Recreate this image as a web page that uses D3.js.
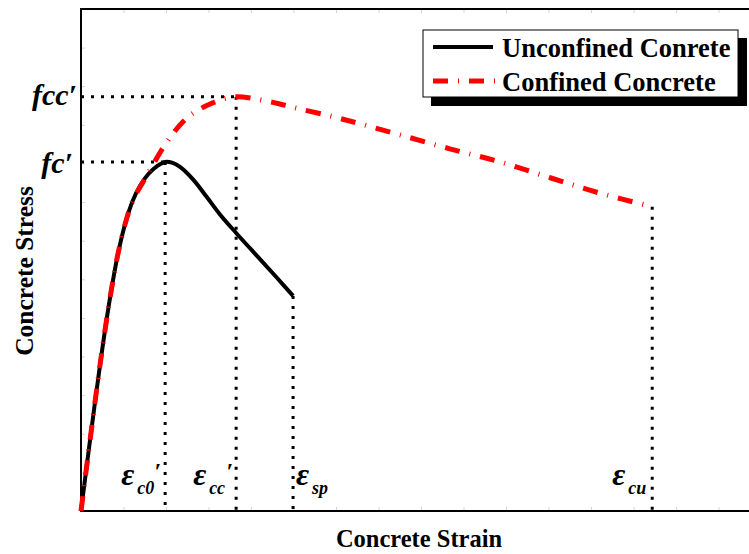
<!DOCTYPE html>
<html lang="en">
  <head>
    <meta charset="UTF-8" />
    <title>Concrete Stress vs Strain – Confined / Unconfined</title>
    <script src="https://d3js.org/d3.v7.min.js"></script>
    <style>
      body {
        margin: 0;
        background: #fff;
      }
      svg text {
        font-family: 'Liberation Serif', 'Times New Roman', serif;
        font-weight: bold;
        fill: #000;
      }
      .tick line {
        stroke: #d4d4d4;
      }
      .dotted {
        stroke: #000;
        stroke-width: 3;
        stroke-dasharray: 3, 7;
        fill: none;
      }
    </style>
  </head>
  <body>
    <div id="chart"></div>
    <script>
      // strain in 1e-3 (ticks every 1), stress in plot units (ticks every 1)
      const unconfinedStrain = [0, 0.21, 0.45, 0.68, 0.87, 1.04, 1.22, 1.39, 1.58, 1.79, 1.98,
        2.14, 2.33, 2.64, 2.96, 3.27, 3.65, 3.98, 4.28, 4.61, 4.99];
      const unconfinedStress = [0, 1.81, 3.8, 5.5, 6.66, 7.44, 8.04, 8.42, 8.72, 8.93, 9.04,
        9.02, 8.91, 8.58, 8.13, 7.68, 7.2, 6.8, 6.44, 6.04, 5.57];

      const confinedStrain = [0, 0.21, 0.45, 0.68, 0.87, 1.04, 1.22, 1.46, 1.69, 1.91, 2.16,
        2.4, 2.61, 2.96, 3.27, 3.65, 4.21, 4.68, 5.15, 5.86, 6.56, 7.51, 8.68, 9.86,
        11.04, 12.21, 13.44];
      const confinedStress = [0, 1.81, 3.8, 5.5, 6.66, 7.44, 8.04, 8.52, 8.96, 9.37, 9.77,
        10.08, 10.28, 10.5, 10.64, 10.73, 10.65, 10.54, 10.41, 10.23, 10.03, 9.74, 9.38,
        9.04, 8.63, 8.23, 7.88];

      // key points marked with dotted guides
      const fc = 9.04, fcc = 10.73;
      const eps = { c0: 1.98, cc: 3.65, sp: 4.99, cu: 13.44 };
      const spEndStress = 5.57, cuEndStress = 7.88;

      const legendLabels = ['Unconfined Conrete', 'Confined Concrete'];

      const W = 749, H = 554;
      const x = d3.scaleLinear().domain([0, 16]).range([81, 761]);
      const y = d3.scaleLinear().domain([0, 13]).range([511, 9]);

      const svg = d3.select('#chart').append('svg')
        .attr('width', W).attr('height', H);

      // faint inward ticks
      svg.append('g').attr('transform', `translate(0,${y(0)})`)
        .call(d3.axisBottom(x).ticks(16).tickSize(-4).tickFormat(''))
        .call(g => g.select('.domain').remove());
      svg.append('g').attr('transform', `translate(0,${y(13)})`)
        .call(d3.axisTop(x).ticks(16).tickSize(-4).tickFormat(''))
        .call(g => g.select('.domain').remove());
      svg.append('g').attr('transform', `translate(${x(0)},0)`)
        .call(d3.axisLeft(y).ticks(13).tickSize(-4).tickFormat(''))
        .call(g => g.select('.domain').remove());

      // axes box
      svg.append('rect')
        .attr('x', x(0)).attr('y', y(13))
        .attr('width', x(16) - x(0)).attr('height', y(0) - y(13))
        .attr('fill', 'none').attr('stroke', '#000').attr('stroke-width', 2);

      // dotted guide lines
      const guides = [
        [[0, fcc], [eps.cc, fcc]],
        [[eps.cc, fcc], [eps.cc, 0]],
        [[0, fc], [eps.c0, fc]],
        [[eps.c0, fc], [eps.c0, 0]],
        [[eps.sp, spEndStress], [eps.sp, 0]],
        [[eps.cu, cuEndStress], [eps.cu, 0]],
      ];
      svg.selectAll('line.dotted').data(guides).join('line')
        .attr('class', 'dotted')
        .attr('x1', d => x(d[0][0])).attr('y1', d => y(d[0][1]))
        .attr('x2', d => x(d[1][0])).attr('y2', d => y(d[1][1]));

      const line = d3.line()
        .x(d => x(d[0])).y(d => y(d[1]))
        .curve(d3.curveCatmullRom.alpha(0.5));

      svg.append('path')
        .datum(d3.zip(unconfinedStrain, unconfinedStress))
        .attr('d', line)
        .attr('fill', 'none').attr('stroke', '#000').attr('stroke-width', 4);

      svg.append('path')
        .datum(d3.zip(confinedStrain, confinedStress))
        .attr('d', line)
        .attr('fill', 'none').attr('stroke', '#ff0000').attr('stroke-width', 5)
        .attr('stroke-dasharray', '15,10,1,10');

      // stress labels
      svg.append('text').attr('x', 77).attr('y', y(fcc) + 8)
        .attr('text-anchor', 'end').style('font-style', 'italic')
        .style('font-size', '30px').text('fcc′');
      svg.append('text').attr('x', 73).attr('y', y(fc) + 11)
        .attr('text-anchor', 'end').style('font-style', 'italic')
        .style('font-size', '30px').text('fc′');

      // strain labels: epsilon + subscript (+ prime)
      const epsLabels = [
        { key: 'c0', sub: 'c0', prime: true, dx: -44 },
        { key: 'cc', sub: 'cc', prime: true, dx: -43 },
        { key: 'sp', sub: 'sp', prime: false, dx: 3 },
        { key: 'cu', sub: 'cu', prime: false, dx: -40 },
      ];
      const el = svg.selectAll('g.eps').data(epsLabels).join('g')
        .attr('class', 'eps')
        .attr('transform', d => `translate(${x(eps[d.key]) + d.dx},485)`)
        .style('font-style', 'italic');
      el.append('text').style('font-size', '32px').text('ε');
      el.append('text').attr('x', 16).attr('y', 9).style('font-size', '18px')
        .text(d => d.sub);
      el.filter(d => d.prime).append('text').attr('x', 33).attr('y', -6)
        .style('font-size', '24px').text('′');

      // axis titles
      svg.append('text').attr('x', 419).attr('y', 547)
        .attr('text-anchor', 'middle').style('font-size', '24.5px')
        .text('Concrete Strain');
      svg.append('text')
        .attr('transform', 'translate(33,271) rotate(-90)')
        .attr('text-anchor', 'middle').style('font-size', '25.5px')
        .text('Concrete Stress');

      // legend
      const lg = svg.append('g');
      lg.append('rect').attr('x', 431).attr('y', 38)
        .attr('width', 316).attr('height', 68).attr('fill', '#000');
      lg.append('rect').attr('x', 423).attr('y', 30)
        .attr('width', 315).attr('height', 67)
        .attr('fill', '#fff').attr('stroke', '#000').attr('stroke-width', 1);
      lg.append('line').attr('x1', 433).attr('x2', 493)
        .attr('y1', 47).attr('y2', 47)
        .attr('stroke', '#000').attr('stroke-width', 4);
      lg.append('line').attr('x1', 433).attr('x2', 495)
        .attr('y1', 81).attr('y2', 81)
        .attr('stroke', '#ff0000').attr('stroke-width', 5)
        .attr('stroke-dasharray', '15,10,1,10');
      lg.selectAll('text.lab').data(legendLabels).join('text')
        .attr('class', 'lab')
        .attr('x', 502).attr('y', (d, i) => 57 + i * 34)
        .style('font-size', '26.5px').text(d => d);
    </script>
  </body>
</html>
